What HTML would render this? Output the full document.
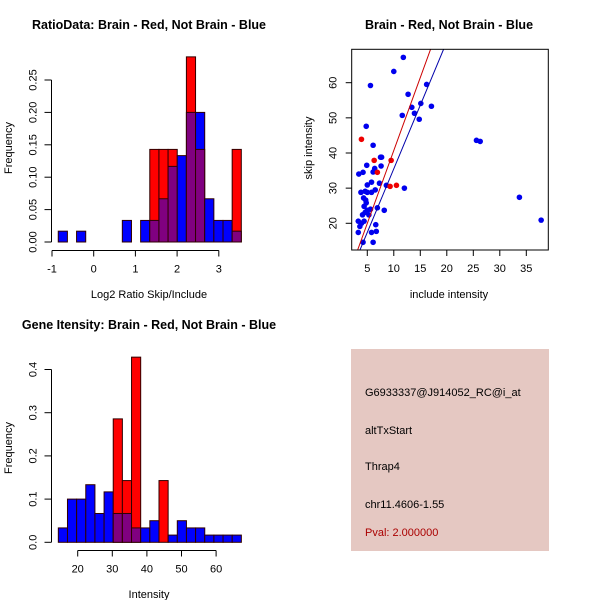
<!DOCTYPE html>
<html><head><meta charset="utf-8"><style>
body{margin:0;background:#fff}
svg{display:block;font-family:"Liberation Sans",sans-serif}
</style></head><body>
<svg id="c" width="600" height="600" viewBox="0 0 600 600"></svg>
<script>
// ---- Panel 1: ratio histogram ----
const ratioBins = 20, ratioMin = -0.85, ratioMax = 3.54;
const ratioBlue = [0.0167,0,0.0167,0,0,0,0,0.0333,0,0.0333,0.0333,0.0667,0.1167,0.1333,0.2,0.2,0.0667,0.0333,0.0333,0.0167];
const ratioRed  = [0,0,0,0,0,0,0,0,0,0,0.1429,0.1429,0.1429,0,0.2857,0.1429,0,0,0,0.1429];
const ratioXTicks = [-1,0,1,2,3];
const ratioYTicks = [0,0.05,0.10,0.15,0.20,0.25];
const ratioYLabels = ["0.00","0.05","0.10","0.15","0.20","0.25"];
// ---- Panel 3: intensity histogram ----
const intMin = 14.4, intMax = 67.3;
const intBlue = [0.0333,0.1,0.1,0.1333,0.0667,0.1167,0.0667,0.0667,0.0333,0.0333,0.05,0,0.0167,0.05,0.0333,0.0333,0.0167,0.0167,0.0167,0.0167];
const intRed  = [0,0,0,0,0,0,0.2857,0.1429,0.4286,0,0,0.1429,0,0,0,0,0,0,0,0];
const intXTicks = [20,30,40,50,60];
const intYTicks = [0,0.1,0.2,0.3,0.4];
const intYLabels = ["0.0","0.1","0.2","0.3","0.4"];
// ---- Panel 2: scatter ----
const blueX = [11.8,10.0,5.6,16.2,12.7,13.4,15.1,17.1,11.6,13.9,14.8,4.8,25.6,26.3,6.1,7.5,7.7,4.9,7.6,6.4,6.1,4.2,3.4,5.0,7.3,5.8,8.6,12.0,3.8,4.6,5.0,5.8,6.5,4.3,4.7,4.8,4.4,6.9,5.6,5.0,8.2,4.6,4.1,5.3,3.3,4.4,3.9,3.6,6.6,5.8,6.7,3.3,4.2,6.1,33.7,37.8];
const blueY = [67.2,63.2,59.2,59.5,56.7,53.0,54.1,53.3,50.7,51.3,49.6,47.6,43.6,43.3,42.2,38.8,38.8,36.5,36.3,35.6,34.6,34.5,34.0,30.9,31.4,31.7,30.8,30.0,28.8,29.1,28.8,28.8,29.5,27.2,26.6,25.8,24.8,24.4,24.0,23.7,23.7,23.1,22.4,22.4,20.6,20.6,20.0,19.1,19.6,17.4,17.7,17.4,14.6,14.6,27.4,20.9];
const redX = [3.9,6.3,9.5,6.9,9.3,10.5];
const redY = [43.9,37.9,37.9,34.5,30.5,30.8];
const fitRed = [-0.79,4.15];   // intercept, slope
const fitBlue = [-0.7,3.62];
const scXTicks = [5,10,15,20,25,30,35];
const scYTicks = [20,30,40,50,60];

const svg = document.getElementById('c');
const NS = 'http://www.w3.org/2000/svg';
function mk(tag, at, parent){const e=document.createElementNS(NS,tag);for(const k in at)e.setAttribute(k,at[k]);(parent||svg).appendChild(e);return e;}
function txt(s,x,y,at,parent){const e=mk('text',Object.assign({x:x,y:y,'font-size':11,fill:'#000'},at),parent);e.textContent=s;return e;}

function hist(p){
  const g=mk('g',{});
  
  
  const sx=v=>p.x0+(v-p.xv0)*p.xs, sy=v=>p.y0-v*p.ys;
  const n=p.blue.length, w=(p.max-p.min)/n;
  for(let i=0;i<n;i++){
    const a=p.min+i*w, b=a+w, bl=p.blue[i], rd=p.red[i];
    const hi=Math.max(bl,rd), lo=Math.min(bl,rd);
    if(hi>0){
      const r=mk('rect',{x:sx(a),y:sy(hi),width:sx(b)-sx(a),height:sy(0)-sy(hi),fill:bl>=rd?'#0000ff':'#ff0000',stroke:'#300000','stroke-width':1},g);
      
      
    }
    if(lo>0){
      const r=mk('rect',{x:sx(a),y:sy(lo),width:sx(b)-sx(a),height:sy(0)-sy(lo),fill:'#800080',stroke:'#300000','stroke-width':1},g);
      
      
    }
  }
  const yt=p.yTicks;
  mk('line',{x1:p.yAxisX,x2:p.yAxisX,y1:sy(yt[0]),y2:sy(yt[yt.length-1]),stroke:'#000'},g);
  yt.forEach((v,i)=>{mk('line',{x1:p.yAxisX-7,x2:p.yAxisX,y1:sy(v),y2:sy(v),stroke:'#000'},g);
    const t=txt(p.yLabels[i],0,0,{'text-anchor':'middle',transform:`translate(${p.yAxisX-15},${sy(v)}) rotate(-90)`},g);
    
    });
  const xt=p.xTicks;
  mk('line',{x1:sx(xt[0]),x2:sx(xt[xt.length-1]),y1:p.xAxisY,y2:p.xAxisY,stroke:'#000'},g);
  xt.forEach(v=>{mk('line',{x1:sx(v),x2:sx(v),y1:p.xAxisY,y2:p.xAxisY+6,stroke:'#000'},g);
    const t=txt(String(v),sx(v),p.xAxisY+22,{'text-anchor':'middle'},g);
    
    });
}
hist({name:'ratio-histogram',blue:ratioBlue,red:ratioRed,min:ratioMin,max:ratioMax,x0:52,xv0:-1,xs:41.7,y0:242,ys:648,
  yAxisX:51.5,xAxisY:250.5,xTicks:ratioXTicks,yTicks:ratioYTicks,yLabels:ratioYLabels});
hist({name:'intensity-histogram',blue:intBlue,red:intRed,min:intMin,max:intMax,x0:77.7,xv0:20,xs:3.46,y0:542.3,ys:432,
  yAxisX:51.5,xAxisY:550.5,xTicks:intXTicks,yTicks:intYTicks,yLabels:intYLabels});

(function(){
  const g=mk('g',{});
  
  
  const L=351.7,R=548.3,T=49.3,B=250, xmin=2.06,xmax=39.15,ymin=12.4,ymax=69.5;
  const sx=v=>L+(v-xmin)/(xmax-xmin)*(R-L), sy=v=>B-(v-ymin)/(ymax-ymin)*(B-T);
  const cp=mk('clipPath',{id:'clp'},g);
  mk('rect',{x:L,y:T,width:R-L,height:B-T},cp);
  blueX.forEach((x,i)=>{const c=mk('circle',{cx:sx(x),cy:sy(blueY[i]),r:2.8,fill:'#0000ee'},g);
    
    });
  redX.forEach((x,i)=>{const c=mk('circle',{cx:sx(x),cy:sy(redY[i]),r:2.8,fill:'#ee0000'},g);
    
    });
  [[fitRed,'#cc0000','fit-line-brain'],[fitBlue,'#0000aa','fit-line-not-brain']].forEach(([f,col,nm])=>{
    const l=mk('line',{x1:sx(xmin),y1:sy(f[0]+f[1]*xmin),x2:sx(xmax),y2:sy(f[0]+f[1]*xmax),stroke:col,'stroke-width':1,'clip-path':'url(#clp)'},g);
    
    });
  mk('rect',{x:L,y:T,width:R-L,height:B-T,fill:'none',stroke:'#000'},g);
  scXTicks.forEach(v=>{mk('line',{x1:sx(v),x2:sx(v),y1:B,y2:B+6,stroke:'#000'},g);
    const t=txt(String(v),sx(v),B+22,{'text-anchor':'middle'},g);
    
    });
  scYTicks.forEach(v=>{mk('line',{x1:L-6,x2:L,y1:sy(v),y2:sy(v),stroke:'#000'},g);
    const t=txt(String(v),0,0,{'text-anchor':'middle',transform:`translate(${L-15},${sy(v)}) rotate(-90)`},g);
    
    });
})();
</script>
<svg width="600" height="600" style="position:absolute;left:0;top:0">
<g font-family="Liberation Sans, sans-serif" font-size="11">
<text x="149" y="29" text-anchor="middle" font-weight="bold" font-size="12.5">RatioData: Brain - Red, Not Brain - Blue</text>
<text x="149" y="298" text-anchor="middle">Log2 Ratio Skip/Include</text>
<text transform="translate(12,148) rotate(-90)" text-anchor="middle">Frequency</text>
<text x="449" y="29" text-anchor="middle" font-weight="bold" font-size="12.5">Brain - Red, Not Brain - Blue</text>
<text x="449" y="298" text-anchor="middle">include intensity</text>
<text transform="translate(312,148) rotate(-90)" text-anchor="middle">skip intensity</text>
<text x="149" y="329" text-anchor="middle" font-weight="bold" font-size="12.5">Gene Itensity: Brain - Red, Not Brain - Blue</text>
<text x="149" y="598" text-anchor="middle">Intensity</text>
<text transform="translate(12,448) rotate(-90)" text-anchor="middle">Frequency</text>
<rect x="351" y="349" width="198" height="202" fill="#e5c8c2"/>
<text x="365" y="396">G6933337@J914052_RC@i_at</text>
<text x="365" y="434">altTxStart</text>
<text x="365" y="470">Thrap4</text>
<text x="365" y="508">chr11.4606-1.55</text>
<text x="365" y="536" fill="#aa0000">Pval: 2.000000</text>
</g></svg>
</body></html>
